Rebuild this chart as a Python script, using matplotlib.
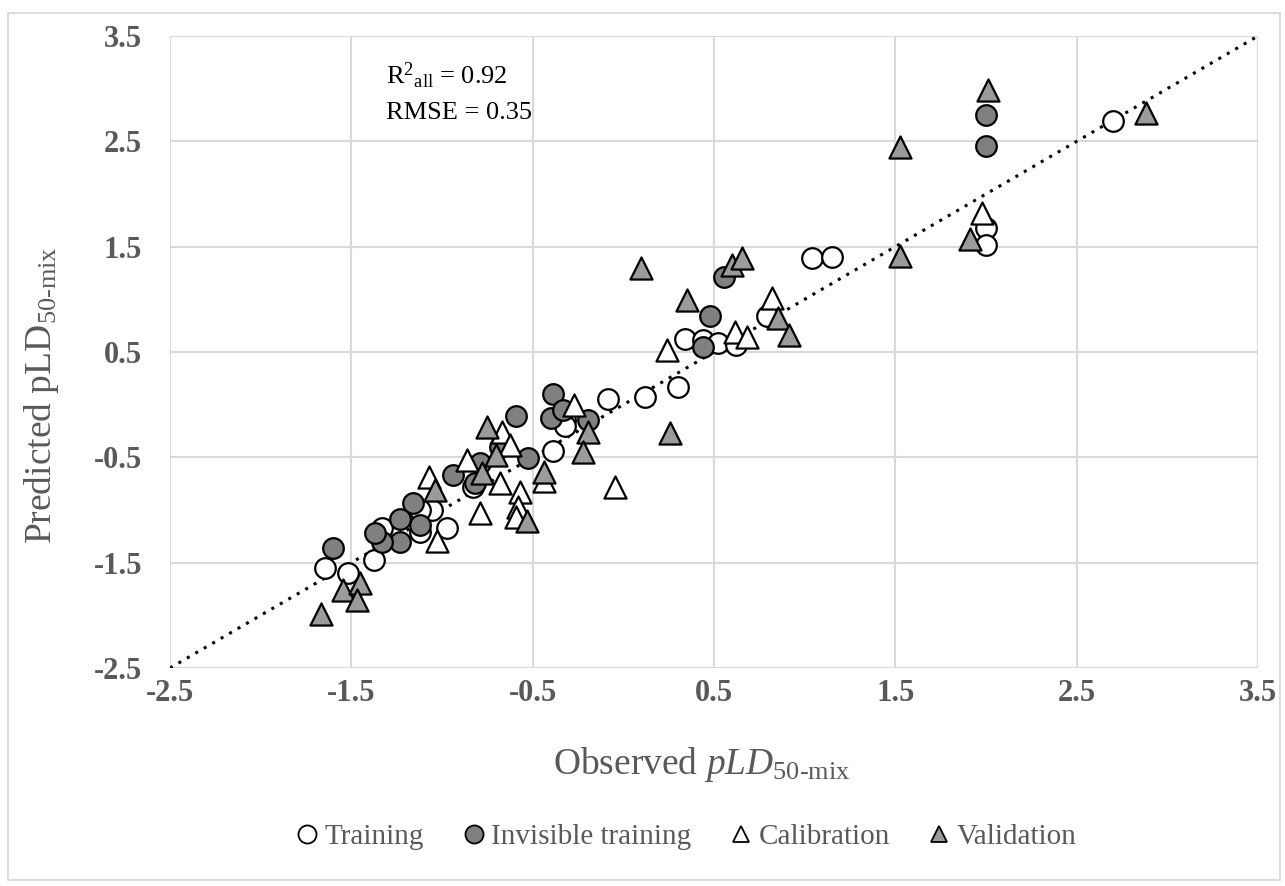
import matplotlib
matplotlib.use("Agg")
import matplotlib.pyplot as plt
from matplotlib.patches import Rectangle
from matplotlib.lines import Line2D

plt.rcParams["font.family"] = ["Liberation Serif", "DejaVu Serif"]
plt.rcParams["mathtext.fontset"] = "custom"
plt.rcParams["mathtext.rm"] = "Liberation Serif"
plt.rcParams["mathtext.it"] = "Liberation Serif:italic"
plt.rcParams["mathtext.bf"] = "Liberation Serif:bold"

# Observed / predicted pLD50-mix by data subset
train_obs = [2.70, 2.00, 2.00, 1.04, 1.15, 0.79, 0.34, 0.44, 0.52, 0.62, 0.30, 0.12,
             -0.085, -0.32, -0.32, -0.39, -0.83, -1.055, -1.12, -0.97, -1.12, -1.33,
             -1.375, -1.52, -1.645]
train_pred = [2.69, 1.68, 1.52, 1.39, 1.40, 0.84, 0.62, 0.61, 0.59, 0.57, 0.17, 0.07,
              0.05, -0.15, -0.20, -0.44, -0.78, -1.00, -1.00, -1.17, -1.21, -1.17,
              -1.47, -1.60, -1.55]

inv_obs = [2.00, 2.00, 0.555, 0.48, 0.44, -0.39, -0.59, -0.40, -0.33, -0.195, -0.525,
           -0.68, -0.79, -0.82, -0.94, -1.12, -1.16, -1.23, -1.23, -1.33, -1.37, -1.60]
inv_pred = [2.75, 2.46, 1.21, 0.84, 0.55, 0.10, -0.11, -0.13, -0.05, -0.15, -0.51,
            -0.40, -0.55, -0.74, -0.67, -1.14, -0.93, -1.09, -1.30, -1.30, -1.22, -1.36]

cal_obs = [1.98, 0.82, 0.615, 0.68, 0.24, -0.045, -0.27, -0.67, -0.625, -0.86, -1.07,
           -0.68, -0.57, -0.58, -0.59, -0.79, -0.44, -1.03]
cal_pred = [1.82, 1.01, 0.69, 0.64, 0.52, -0.78, 0.00, -0.26, -0.38, -0.53, -0.69,
            -0.74, -0.83, -0.97, -1.07, -1.03, -0.72, -1.29]

val_obs = [2.88, 2.01, 1.525, 1.525, 1.91, 0.10, 0.35, 0.60, 0.655, 0.855, 0.915, 0.257,
           -0.195, -0.22, -0.44, -0.75, -0.70, -0.78, -0.53, -1.04, -1.67, -1.545,
           -1.45, -1.47]
val_pred = [2.77, 2.99, 2.45, 1.41, 1.57, 1.30, 0.99, 1.33, 1.39, 0.82, 0.66, -0.27,
            -0.26, -0.45, -0.64, -0.21, -0.48, -0.65, -1.10, -0.81, -1.99, -1.76,
            -1.69, -1.85]

ticks = [-2.5, -1.5, -0.5, 0.5, 1.5, 2.5, 3.5]
tick_labels = ["-2.5", "-1.5", "-0.5", "0.5", "1.5", "2.5", "3.5"]

TXT = "#595959"
GRID = "#d9d9d9"
CIRC_FILL = "#808080"
TRI_FILL = "#9b9b9b"
W, H = 1285, 886

fig = plt.figure(figsize=(W / 100, H / 100), dpi=100)
fig.patches.append(Rectangle((8 / W, 1 - 880 / H), 1272 / W, 867 / H,
                             transform=fig.transFigure, fill=False,
                             edgecolor=GRID, linewidth=1.3))
ax = fig.add_axes([170 / W, 1 - 668 / H, 1088 / W, 632 / H])

ax.set_xlim(-2.5, 3.5)
ax.set_ylim(-2.5, 3.5)
ax.set_xticks(ticks)
ax.set_yticks(ticks)
ax.set_xticklabels(tick_labels)
ax.set_yticklabels(tick_labels)
ax.grid(True, color=GRID, linewidth=1.5)
ax.set_axisbelow(True)
for s in ax.spines.values():
    s.set_visible(False)
ax.tick_params(length=0, labelsize=22, labelcolor=TXT)
ax.tick_params(axis="x", pad=8)
ax.tick_params(axis="y", pad=20)
for lab in ax.get_xticklabels() + ax.get_yticklabels():
    lab.set_fontweight("bold")

ax.plot([-2.5, 3.5], [-2.5, 3.5], color="black", linestyle=(0, (1, 2.2)),
        linewidth=2.2, zorder=2)

ms = 220
lw = 1.6
ax.scatter(train_obs, train_pred, s=ms, marker="o", facecolor="white",
           edgecolor="black", linewidth=lw, zorder=3)
ax.scatter(inv_obs, inv_pred, s=ms, marker="o", facecolor=CIRC_FILL,
           edgecolor="black", linewidth=lw, zorder=3)
ax.scatter(cal_obs, cal_pred, s=ms * 1.15, marker="^", facecolor="white",
           edgecolor="black", linewidth=lw, zorder=3)
ax.scatter(val_obs, val_pred, s=ms * 1.15, marker="^", facecolor=TRI_FILL,
           edgecolor="black", linewidth=lw, zorder=3)

# Axis titles
fig.text(702 / W, 1 - 765 / H, r"Observed $\mathit{pLD}_{\mathrm{50‐mix}}$",
         fontsize=27, color=TXT, ha="center", va="center")
fig.text(42 / W, 1 - 395 / H, r"Predicted pLD$_{\mathrm{50‐mix}}$",
         fontsize=27, color=TXT, ha="center", va="center", rotation=90)

ax.text(-1.31, 3.12, r"R$^{2}$$_{\mathrm{all}}$ = 0.92", fontsize=19,
        color="black", va="center", ha="left")
ax.text(-1.31, 2.77, "RMSE = 0.35", fontsize=19, color="black",
        va="center", ha="left")

handles = [
    Line2D([], [], linestyle="none", marker="o", markersize=13,
           markerfacecolor="white", markeredgecolor="black", markeredgewidth=1.3),
    Line2D([], [], linestyle="none", marker="o", markersize=13,
           markerfacecolor=CIRC_FILL, markeredgecolor="black", markeredgewidth=1.3),
    Line2D([], [], linestyle="none", marker="^", markersize=12,
           markerfacecolor="white", markeredgecolor="black", markeredgewidth=1.3),
    Line2D([], [], linestyle="none", marker="^", markersize=12,
           markerfacecolor=TRI_FILL, markeredgecolor="black", markeredgewidth=1.3),
]
leg = fig.legend(handles, ["Training", "Invisible training", "Calibration", "Validation"],
                 loc="center", bbox_to_anchor=(686 / W, 1 - 837 / H), ncol=4,
                 frameon=False, fontsize=21, handlelength=0.8, handletextpad=0.2,
                 columnspacing=1.3, labelcolor=TXT)

fig.savefig("out.png", dpi=100)
